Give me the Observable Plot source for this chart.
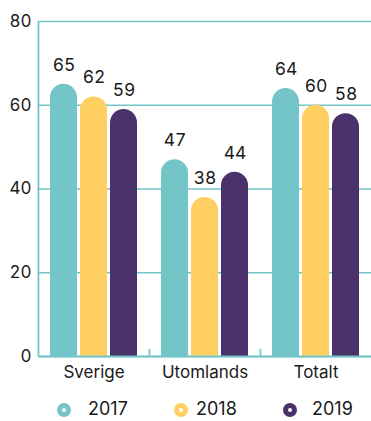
<!DOCTYPE html>
<html>
<head>
<meta charset="utf-8">
<script src="https://cdn.jsdelivr.net/npm/d3@7"></script>
<script src="https://cdn.jsdelivr.net/npm/@observablehq/plot@0.6"></script>
<style>
  body { margin: 0; background: #fff; font-family: Inter, "Noto Sans", sans-serif; }
  #chart { width: 371px; }
  .legend { position: relative; width: 371px; height: 31px; font-size: 18px; color: #1a1a1a; }
  .legend .item { position: absolute; top: 0; height: 31px; }
  .legend svg { position: absolute; top: 12px; }
  .legend span { position: absolute; top: 9px; line-height: 20px; white-space: nowrap; }
</style>
</head>
<body>
<div id="chart"></div>
<script>
// Share of respondents per region and year
const categories = ["Sverige", "Utomlands", "Totalt"];
const years = ["2017", "2018", "2019"];
const values2017 = [65, 47, 64];
const values2018 = [62, 38, 60];
const values2019 = [59, 44, 58];
const yTicks = [0, 20, 40, 60, 80];
const colors = ["#74C5C8", "#FFCF62", "#4B3169"];

const seriesByYear = [values2017, values2018, values2019];
const rows = categories.flatMap((cat, ci) =>
  years.map((year, yi) => ({cat, year, value: seriesByYear[yi][ci]}))
);

const W = 371, H = 390, ML = 37, MR = 0, MT = 21, MB = 34;
const teal = "#74C5C8";
const pIn = 0.1, pOut = 0.4;
const facetW = (W - ML - MR) / categories.length;
const step = facetW / (years.length - pIn + 2 * pOut);
// offset from the first bar's centre back to the left edge of its group
const edgeDx = -(pOut * step + step * (1 - pIn) / 2);

const chart = Plot.plot({
  width: W,
  height: H,
  marginLeft: ML,
  marginRight: MR,
  marginTop: MT,
  marginBottom: MB,
  style: {fontFamily: "Inter, 'Noto Sans', sans-serif", fontSize: "17px", color: "#1a1a1a", background: "#fff"},
  fx: {domain: categories, padding: 0, label: null, axis: "bottom", tickSize: 0, tickPadding: 9},
  x: {domain: years, paddingInner: pIn, paddingOuter: pOut, axis: null},
  y: {domain: [0, 80], ticks: yTicks, label: null, tickSize: 0, tickPadding: 7},
  color: {domain: years, range: colors},
  marks: [
    Plot.gridY(yTicks, {stroke: teal, strokeOpacity: 1, strokeWidth: 1.5}),
    // bars with fully rounded tops
    Plot.barY(rows, {fx: "cat", x: "year", y: "value", fill: "year", ry1: step * (1 - pIn) / 2}),
    Plot.text(rows, {fx: "cat", x: "year", y: "value", text: "value", dy: -19, fontSize: 17.5, fill: "#1a1a1a"}),
    // left axis line, plus short ticks between the groups
    Plot.ruleX(categories, {
      fx: d => d, x: () => "2017",
      y1: 0, y2: (d, i) => (i === 0 ? 80 : 1.7),
      dx: edgeDx, stroke: teal, strokeWidth: 1.8
    }),
    Plot.ruleY([0], {stroke: teal, strokeWidth: 2})
  ]
});
document.getElementById("chart").append(chart);

// legend
const legend = document.createElement("div");
legend.className = "legend";
const circleX = [64, 181, 290];
const textX = [88, 196, 312];
years.forEach((y, i) => {
  const item = document.createElement("div");
  item.className = "item";
  item.innerHTML =
    `<svg width="16" height="16" style="left:${circleX[i] - 8}px"><circle cx="8" cy="8" r="7" fill="${colors[i]}"/><circle cx="8" cy="8" r="2" fill="#fff"/></svg>` +
    `<span style="left:${textX[i]}px">${y}</span>`;
  legend.append(item);
});
document.getElementById("chart").append(legend);
</script>
</body>
</html>
